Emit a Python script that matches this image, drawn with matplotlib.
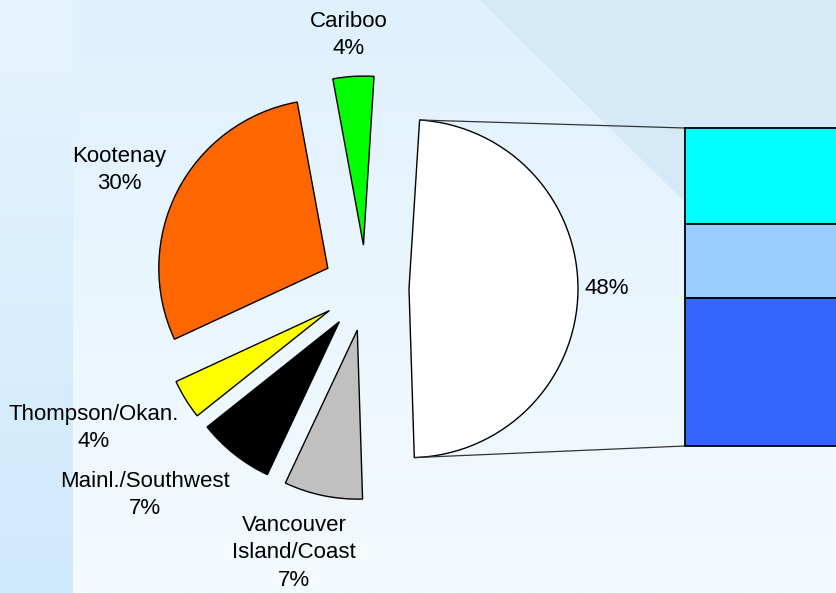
import numpy as np
from matplotlib import pyplot as plt
from matplotlib.patches import Polygon

plt.rcParams['font.family'] = ['Liberation Sans', 'DejaVu Sans']

# pie data (last slice is split into the bar)
regions = ["Cariboo", "Kootenay", "Thompson/Okan.", "Mainl./Southwest",
           "Vancouver\nIsland/Coast", ""]
shares = [3.9, 29.0, 3.8, 7.3, 7.5, 48.5]
share_labels = ["4%", "30%", "4%", "7%", "7%", "48%"]
pie_colors = ["#00ff00", "#ff6600", "#ffff00", "#000000", "#c0c0c0", "#ffffff"]

# bar data (breakdown of the 48% slice, top to bottom)
bar_values = [14.5, 11.2, 22.3]
bar_colors = ["#00ffff", "#99ccff", "#3366ff"]


def main():
    fig = plt.figure(figsize=(8.37, 5.93), dpi=100)
    ax = fig.add_axes([0, 0, 1, 1])

    # background
    grad = np.linspace(0, 1, 200).reshape(-1, 1)
    c_top = np.array([0xdf, 0xf1, 0xfd]) / 255
    c_bot = np.array([0xf5, 0xfb, 0xff]) / 255
    img = c_top + (c_bot - c_top) * grad[:, :, None]
    ax.imshow(img, extent=(0, 837, 593, 0), aspect='auto', zorder=0)
    l_top = np.array([0xe6, 0xf4, 0xfe]) / 255
    l_bot = np.array([0xcf, 0xe9, 0xfc]) / 255
    img2 = l_top + (l_bot - l_top) * grad[:, :, None]
    ax.imshow(img2, extent=(0, 73, 593, 0), aspect='auto', zorder=0)
    ax.add_patch(Polygon([(480, 0), (837, 0), (837, 352)], closed=True,
                         facecolor="#d5e9f7", edgecolor='none', zorder=0.5))

    # exploded pie (y axis inverted -> clockwise in data = counterclockwise on screen)
    wedges, _ = ax.pie(shares, colors=pie_colors, explode=[43] * len(shares),
                       startangle=-86.4, counterclock=False, center=(366, 288),
                       radius=169, wedgeprops=dict(edgecolor='black', linewidth=1.0))

    # stacked bar for the big slice
    top, bottom = 128, 446
    scale = (bottom - top) / sum(bar_values)
    y = top
    for v, c in zip(bar_values, bar_colors):
        ax.bar(685, v * scale, width=200, bottom=y, align='edge', color=c,
               edgecolor='black', linewidth=1.3, zorder=3)
        y += v * scale

    # connector lines
    w = wedges[-1]
    cx, cy = w.center
    for ang, by in [(w.theta1, top), (w.theta2, bottom)]:
        px = cx + w.r * np.cos(np.radians(ang))
        py = cy + w.r * np.sin(np.radians(ang))
        ax.plot([px, 685], [py, by], color='#333333', linewidth=0.9, zorder=2)

    # labels
    label_pos = [(349, 35), (119, 170), (94, 428), (145, 495), (294, 553), (607, 288)]
    for name, lab, (lx, ly) in zip(regions, share_labels, label_pos):
        txt = f"{name}\n{lab}" if name else lab
        ax.text(lx, ly, txt, ha='center', va='center', fontsize=16,
                linespacing=1.4, color='black', zorder=4)

    ax.set_xlim(0, 837)
    ax.set_ylim(593, 0)
    ax.set_aspect('equal')
    ax.axis('off')

    fig.savefig("out.png", dpi=100)
    return 0


if __name__ == '__main__':
    main()
